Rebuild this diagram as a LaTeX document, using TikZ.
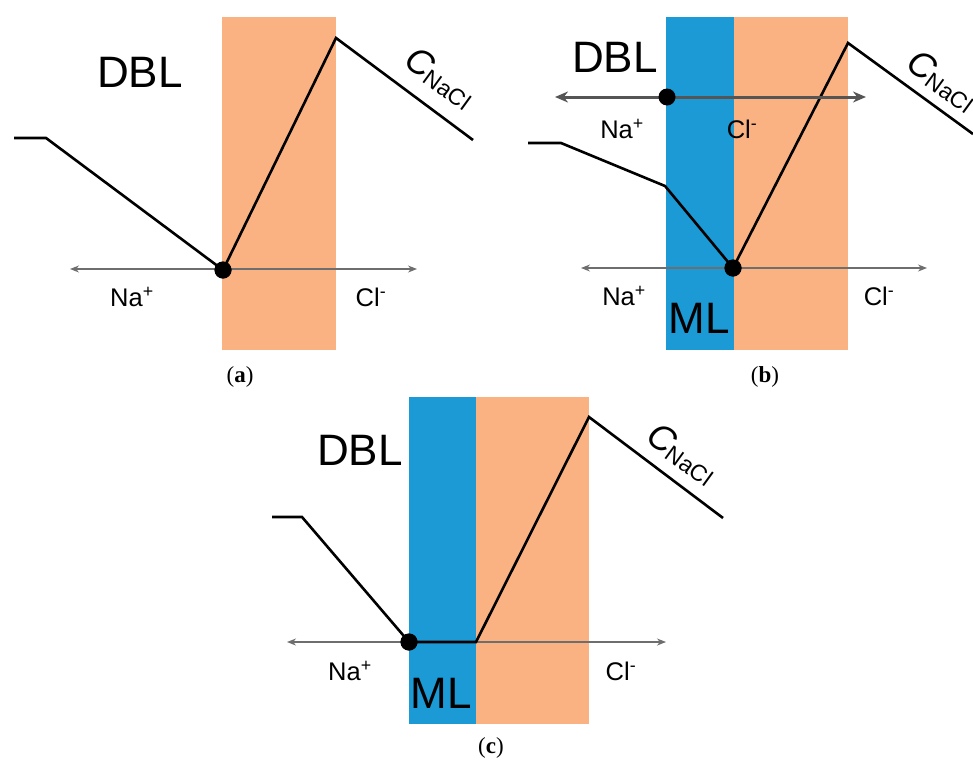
\documentclass[tikz,border=0pt]{standalone}
\usepackage{fontspec}
\setmainfont{Liberation Sans}
\newfontfamily\capfont{Liberation Serif}
\usetikzlibrary{arrows.meta}
\definecolor{dblorange}{RGB}{251,178,131}
\definecolor{mlblue}{RGB}{27,154,214}
\definecolor{axisgray}{RGB}{110,110,110}
\definecolor{thickgray}{RGB}{85,85,85}
\tikzset{
  orangebox/.style={fill=dblorange, draw=none},
  bluebox/.style={fill=mlblue, draw=none},
  profile/.style={line width=2.6pt, black, line join=miter},
  axisarrow/.style={line width=1.2pt, axisgray, {Stealth[length=9pt,width=7pt]}-{Stealth[length=9pt,width=7pt]}},
  thickarrow/.style={line width=3pt, thickgray, {Stealth[length=13pt,width=11pt]}-{Stealth[length=13pt,width=11pt]}},
  blackdot/.style={circle, fill=black, inner sep=0pt, minimum size=17pt},
  bigtext/.style={font=\fontsize{44}{44}\selectfont, inner sep=0pt},
  ionlabel/.style={font=\fontsize{25.5}{25.5}\selectfont, inner sep=0pt},
  conclabel/.style={inner sep=0pt, rotate=-36},
  caption/.style={font=\capfont\fontsize{23}{23}\selectfont, inner sep=0pt},
}
\newcommand{\cnacl}{{\fontsize{36}{36}\selectfont\itshape C}\raisebox{-0.22em}{\fontsize{23}{23}\selectfont NaCl}}
\begin{document}
\begin{tikzpicture}[x=1pt,y=-1pt]
\useasboundingbox (0,0) rectangle (973,763);
% ---------------- (a)
\fill[orangebox] (222,17) rectangle (336,350);
\coordinate (a1) at (14,138);
\coordinate (a2) at (46,138);
\coordinate (a4) at (336,38);
\coordinate (a5) at (473,140);
\coordinate (aL) at (70,269);
\coordinate (aR) at (417,269);
\draw[axisarrow] (aL) -- (aR);
\node[blackdot] (adot) at (223,270) {};
\draw[profile] (a1) -- (a2) -- (adot.center) -- (a4) -- (a5);
\node[blackdot] at (adot) {};
\node[bigtext] (adbl) at (140,72) {DBL};
\node[conclabel] (ac) at (440,78) {\cnacl};
\node[ionlabel] (ana) at (132,297) {Na\textsuperscript{+}};
\node[ionlabel] (acl) at (371,297) {Cl\textsuperscript{-}};
\node[caption] (acap) at (240,377) {(\textbf{a})};
% ---------------- (b)
\fill[bluebox] (666,17) rectangle (734,350);
\fill[orangebox] (734,17) rectangle (848,350);
\coordinate (b1) at (528,143);
\coordinate (b2) at (561,143);
\coordinate (b3) at (665,186);
\coordinate (b5) at (848,43);
\coordinate (b6) at (973,134);
\coordinate (bL) at (581,268);
\coordinate (bR) at (927,268);
\coordinate (tL) at (555,97);
\coordinate (tR) at (866,97);
\draw[axisarrow] (bL) -- (bR);
\node[blackdot] (bdot) at (733,268) {};
\draw[profile] (b1) -- (b2) -- (b3) -- (bdot.center) -- (b5) -- (b6);
\node[blackdot] at (bdot) {};
\draw[thickarrow] (tL) -- (tR);
\node[blackdot] (tdot) at (667,97) {};
\node[bigtext] (bdbl) at (615,57) {DBL};
\node[conclabel] (bc) at (942,81) {\cnacl};
\node[ionlabel] (bna1) at (622,129) {Na\textsuperscript{+}};
\node[ionlabel] (bcl1) at (742,129) {Cl\textsuperscript{-}};
\node[ionlabel] (bna2) at (624,296) {Na\textsuperscript{+}};
\node[ionlabel] (bcl2) at (879,296) {Cl\textsuperscript{-}};
\node[bigtext] (bml) at (699,318) {ML};
\node[caption] (bcap) at (765,377) {(\textbf{b})};
% ---------------- (c)
\fill[bluebox] (409,397) rectangle (476,724);
\fill[orangebox] (476,397) rectangle (589,724);
\coordinate (c1) at (272,517);
\coordinate (c2) at (302,517);
\coordinate (c4) at (476,642);
\coordinate (c5) at (589,417);
\coordinate (c6) at (723,518);
\coordinate (cL) at (287,642);
\coordinate (cR) at (666,642);
\draw[axisarrow] (cL) -- (cR);
\node[blackdot] (cdot) at (409,642) {};
\draw[profile] (c1) -- (c2) -- (cdot.center) -- (c4) -- (c5) -- (c6);
\node[blackdot] at (cdot) {};
\node[bigtext] (cdbl) at (360,450) {DBL};
\node[conclabel] (cc) at (682,454) {\cnacl};
\node[ionlabel] (cna) at (350,671) {Na\textsuperscript{+}};
\node[ionlabel] (ccl) at (621,671) {Cl\textsuperscript{-}};
\node[bigtext] (cml) at (441,693) {ML};
\node[caption] (ccap) at (491,748) {(\textbf{c})};
\end{tikzpicture}
\end{document}
